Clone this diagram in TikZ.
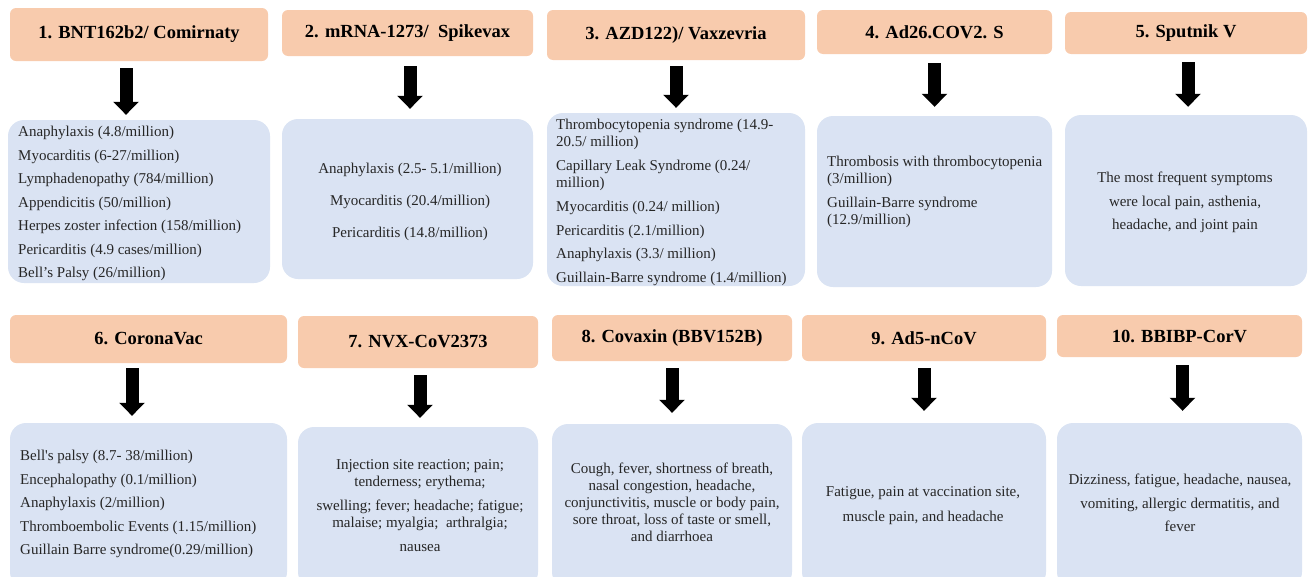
\documentclass[tikz,border=0pt]{standalone}
\usepackage{fontspec}
\setmainfont{Liberation Serif}
\usetikzlibrary{arrows.meta}
\definecolor{headfill}{HTML}{F8CBAD}
\definecolor{bodyfill}{HTML}{DAE3F3}
\definecolor{txtgray}{HTML}{262626}
\tikzset{
  head/.style={rectangle,rounded corners=6pt,fill=headfill,inner sep=0pt,
    font=\fontsize{18.5}{22}\selectfont\bfseries},
  body/.style={rectangle,rounded corners=16pt,fill=bodyfill,inner sep=0pt},
  txt/.style={inner sep=0pt,text=txtgray,font=\fontsize{15}{17}\selectfont},
  txtl/.style={txt,anchor=north west,align=left},
  txtc/.style={txt,anchor=north,align=center},
  downarr/.style={line width=13pt,-{Triangle[length=13pt,width=25pt]}},
}

\begin{document}
\begin{tikzpicture}[x=1pt,y=-1pt]
   \useasboundingbox (0,0) rectangle (1309,576);
   \clip (0,0) rectangle (1309,576);

   % first row
   \node[head,minimum width=258pt,minimum height=53pt] (h1) at (139,34.5) {1. BNT162b2/ Comirnaty};
   \node[head,minimum width=251pt,minimum height=46pt] (h2) at (407.5,33) {2. mRNA-1273/\ \ Spikevax};
   \node[head,minimum width=258pt,minimum height=50pt] (h3) at (676,35) {3. AZD122)/ Vaxzevria};
   \node[head,minimum width=235pt,minimum height=44pt] (h4) at (934.5,32) {4. Ad26.COV2. S};
   \node[head,minimum width=242pt,minimum height=42pt] (h5) at (1186,33) {5. Sputnik V};

   \node[body,minimum width=262pt,minimum height=163pt] (b1) at (139,201.5) {};
   \node[body,minimum width=251pt,minimum height=160pt] (b2) at (407.5,199) {};
   \node[body,minimum width=258pt,minimum height=173pt] (b3) at (676,199.5) {};
   \node[body,minimum width=235pt,minimum height=171pt] (b4) at (934.5,201.5) {};
   \node[body,minimum width=242pt,minimum height=171pt] (b5) at (1186,200.5) {};

   \draw[downarr,shorten <=7pt,shorten >=5pt] ([xshift=-13pt]h1.south) -- ([xshift=-13pt]b1.north);
   \draw[downarr,shorten <=10pt,shorten >=10pt] ([xshift=2.5pt]h2.south) -- ([xshift=2.5pt]b2.north);
   \draw[downarr,shorten <=6pt,shorten >=5pt] (h3) -- (b3);
   \draw[downarr,shorten <=9pt,shorten >=9pt] (h4) -- (b4);
   \draw[downarr,shorten <=8pt,shorten >=8pt] ([xshift=2pt]h5.south) -- ([xshift=2pt]b5.north);

   \node[txtl] (t1) at (18,126) {Anaphylaxis (4.8/million)\\[6.5pt]
      Myocarditis (6-27/million)\\[6.5pt]
      Lymphadenopathy (784/million)\\[6.5pt]
      Appendicitis (50/million)\\[6.5pt]
      Herpes zoster infection (158/million)\\[6.5pt]
      Pericarditis (4.9 cases/million)\\[6.5pt]
      Bell’s Palsy (26/million)};
   \node[txtc] (t2) at (410,163) {Anaphylaxis (2.5- 5.1/million)\\[15pt]
      Myocarditis (20.4/million)\\[15pt]
      Pericarditis (14.8/million)};
   \node[txtl] (t3) at (556,119) {Thrombocytopenia syndrome (14.9-\\
      20.5/ million)\\[7pt]
      Capillary Leak Syndrome (0.24/\\
      million)\\[7pt]
      Myocarditis (0.24/ million)\\[6.5pt]
      Pericarditis (2.1/million)\\[6.5pt]
      Anaphylaxis (3.3/ million)\\[6.5pt]
      Guillain-Barre syndrome (1.4/million)};
   \node[txtl] (t4) at (827,156) {Thrombosis with thrombocytopenia\\
      (3/million)\\[7pt]
      Guillain-Barre syndrome\\
      (12.9/million)};
   \node[txtc] (t5) at (1185,172) {The most frequent symptoms\\[6.5pt]
      were local pain, asthenia,\\[6.5pt]
      headache, and joint pain};

   % second row
   \node[head,minimum width=277pt,minimum height=48pt] (h6) at (148.5,339) {6. CoronaVac};
   \node[head,minimum width=240pt,minimum height=52pt] (h7) at (418,342) {7. NVX-CoV2373};
   \node[head,minimum width=240pt,minimum height=46pt] (h8) at (672,338) {8. Covaxin (BBV152B)};
   \node[head,minimum width=244pt,minimum height=46pt] (h9) at (924,338) {9. Ad5-nCoV};
   \node[head,minimum width=245pt,minimum height=42pt] (h10) at (1179.5,336) {10. BBIBP-CorV};

   \node[body,minimum width=277pt,minimum height=165pt] (b6) at (148.5,505.5) {};
   \node[body,minimum width=240pt,minimum height=161pt] (b7) at (418,507.5) {};
   \node[body,minimum width=240pt,minimum height=164pt] (b8) at (672,506) {};
   \node[body,minimum width=244pt,minimum height=165pt] (b9) at (924,505.5) {};
   \node[body,minimum width=245pt,minimum height=165pt] (b10) at (1179.5,505.5) {};

   \draw[downarr,shorten <=5pt,shorten >=7pt] ([xshift=-16.5pt]h6.south) -- ([xshift=-16.5pt]b6.north);
   \draw[downarr,shorten <=7pt,shorten >=9pt] ([xshift=2pt]h7.south) -- ([xshift=2pt]b7.north);
   \draw[downarr,shorten <=7pt,shorten >=11pt] (h8) -- (b8);
   \draw[downarr,shorten <=7pt,shorten >=12pt] (h9) -- (b9);
   \draw[downarr,shorten <=8pt,shorten >=12pt] ([xshift=3pt]h10.south) -- ([xshift=3pt]b10.north);

   \node[txtl] (t6) at (20,450) {Bell\textquotesingle s palsy (8.7- 38/million)\\[6.5pt]
      Encephalopathy (0.1/million)\\[6.5pt]
      Anaphylaxis (2/million)\\[6.5pt]
      Thromboembolic Events (1.15/million)\\[6.5pt]
      Guillain Barre syndrome(0.29/million)};
   \node[txtc] (t7) at (420,459) {Injection site reaction; pain;\\
      tenderness; erythema;\\[7pt]
      swelling; fever; headache; fatigue;\\
      malaise; myalgia;\ \ arthralgia;\\[7pt]
      nausea};
   \node[txtc] (t8) at (672,463) {Cough, fever, shortness of breath,\\
      nasal congestion, headache,\\
      conjunctivitis, muscle or body pain,\\
      sore throat, loss of taste or smell,\\
      and diarrhoea};
   \node[txtc] (t9) at (923,486) {Fatigue, pain at vaccination site,\\[8pt]
      muscle pain, and headache};
   \node[txtc] (t10) at (1180,474) {Dizziness, fatigue, headache, nausea,\\[6.5pt]
      vomiting, allergic dermatitis, and\\[6.5pt]
      fever};
\end{tikzpicture}
\end{document}
